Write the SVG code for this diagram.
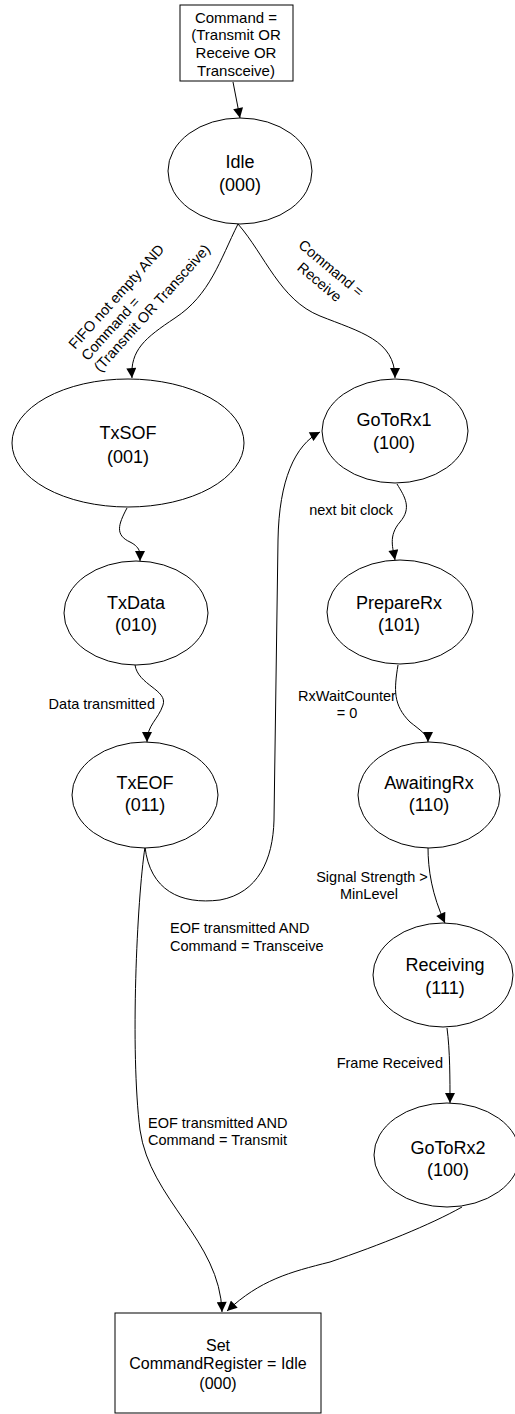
<svg xmlns="http://www.w3.org/2000/svg" width="515" height="1414" viewBox="0 0 515 1414">
<defs>
<marker id="arr" viewBox="0 0 10 10" refX="10" refY="5" markerWidth="12" markerHeight="10" markerUnits="userSpaceOnUse" orient="auto"><path d="M0,0 L10,5 L0,10 z" fill="#000"/></marker>
</defs>
<style>
.n{fill:#fff;stroke:#000;stroke-width:1}
.t{font-family:"Liberation Sans",Arial,sans-serif;font-size:18px;text-anchor:middle;fill:#000}
.b{font-family:"Liberation Sans",Arial,sans-serif;font-size:15px;text-anchor:middle;fill:#000}
.l{font-family:"Liberation Sans",Arial,sans-serif;font-size:14.5px;fill:#000}
.c{fill:none;stroke:#000;stroke-width:1;marker-end:url(#arr)}
</style>
<rect width="515" height="1414" fill="#fff"/>
<g id="connectors">
<path class="c" d="M233,82 L240,118"/>
<path class="c" d="M238,224 C220,260 210,295 175,318 C145,338 130,350 132,378"/>
<path class="c" d="M238,224 C265,255 280,300 320,316 C360,332 395,340 395,378"/>
<path class="c" d="M127,508 C118,525 115,535 130,542 C142,548 140,555 140,561"/>
<path class="c" d="M135,665 C138,685 168,690 163,705 C158,720 147,725 147,742"/>
<path class="c" d="M145,847 C150,890 180,905 220,900 C258,893 273,860 274,820 L278,540 C279,480 295,445 320,432"/>
<path class="c" d="M145,847 C137,900 130,1050 140,1130 C150,1200 220,1240 222,1312"/>
<path class="c" d="M397,484 C405,497 412,508 400,522 C388,536 393,548 395,560"/>
<path class="c" d="M398,665 C394,690 393,705 410,722 C420,730 428,735 428,742"/>
<path class="c" d="M428,847 C428,870 432,895 445,923"/>
<path class="c" d="M447,1028 C450,1050 450,1080 450,1103"/>
<path class="c" d="M462,1207 C430,1225 380,1245 330,1262 C290,1272 260,1280 227,1311"/>
<g class="l">
<g transform="translate(75,350) rotate(-48)"><text x="0" y="0">FIFO not empty AND</text><text x="0" y="17">Command =</text><text x="0" y="34">(Transmit OR Transceive)</text></g>
<g transform="translate(328,272) rotate(40)" text-anchor="middle"><text x="0" y="0">Command =</text><text x="0" y="18">Receive</text></g>
<text x="393" y="515" text-anchor="end">next bit clock</text>
<text x="155" y="709" text-anchor="end">Data transmitted</text>
<text x="347" y="701" text-anchor="middle">RxWaitCounter</text>
<text x="347" y="718" text-anchor="middle">= 0</text>
<text x="372" y="882" text-anchor="middle">Signal Strength &gt;</text>
<text x="369" y="899" text-anchor="middle">MinLevel</text>
<text x="170" y="933">EOF transmitted AND</text>
<text x="170" y="951">Command = Transceive</text>
<text x="443" y="1068" text-anchor="end">Frame Received</text>
<text x="148" y="1128">EOF transmitted AND</text>
<text x="148" y="1145">Command = Transmit</text>
</g>
</g>
<g id="start"><rect class="n" x="180" y="5" width="113" height="76"/><text class="b" x="236" y="23">Command =</text><text class="b" x="236" y="40">(Transmit OR</text><text class="b" x="236" y="58">Receive OR</text><text class="b" x="236" y="76">Transceive)</text></g>
<g id="idle"><ellipse class="n" cx="240" cy="171" rx="72" ry="53"/><text class="t" x="240" y="168">Idle</text><text class="t" x="240" y="191">(000)</text></g>
<g id="txsof"><ellipse class="n" cx="128" cy="443" rx="116" ry="64"/><text class="t" x="128" y="439">TxSOF</text><text class="t" x="128" y="463">(001)</text></g>
<g id="gotorx1"><ellipse class="n" cx="395" cy="431" rx="73" ry="52"/><text class="t" x="394" y="426">GoToRx1</text><text class="t" x="394" y="449">(100)</text></g>
<g id="txdata"><ellipse class="n" cx="136" cy="613" rx="72" ry="52"/><text class="t" x="136" y="609">TxData</text><text class="t" x="136" y="631">(010)</text></g>
<g id="preparerx"><ellipse class="n" cx="400" cy="612" rx="73" ry="52"/><text class="t" x="399" y="609">PrepareRx</text><text class="t" x="399" y="631">(101)</text></g>
<g id="txeof"><ellipse class="n" cx="145" cy="795" rx="73" ry="53"/><text class="t" x="145" y="789">TxEOF</text><text class="t" x="145" y="811">(011)</text></g>
<g id="awaitingrx"><ellipse class="n" cx="429" cy="795" rx="71" ry="53"/><text class="t" x="429" y="789">AwaitingRx</text><text class="t" x="429" y="811">(110)</text></g>
<g id="receiving"><ellipse class="n" cx="443" cy="975" rx="70" ry="52"/><text class="t" x="445" y="971">Receiving</text><text class="t" x="445" y="994">(111)</text></g>
<g id="gotorx2"><ellipse class="n" cx="447" cy="1155" rx="73" ry="52"/><text class="t" x="448" y="1154">GoToRx2</text><text class="t" x="448" y="1176">(100)</text></g>
<g id="end"><rect class="n" x="115" y="1313" width="206" height="100"/><text class="t" style="font-size:16px" x="218" y="1351">Set</text><text class="t" style="font-size:16px" x="218" y="1369">CommandRegister = Idle</text><text class="t" style="font-size:16px" x="218" y="1389">(000)</text></g>
</svg>
